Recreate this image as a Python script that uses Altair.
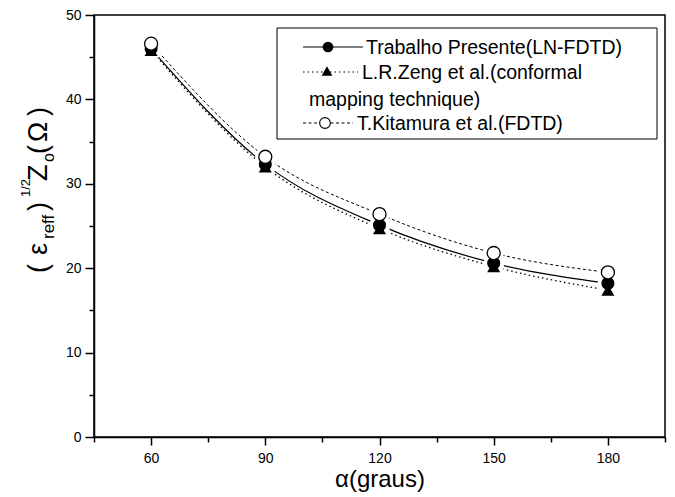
import altair as alt
import pandas as pd

# ---- data ----
alpha = [60, 90, 120, 150, 180]
trabalho = [46.0, 32.3, 25.1, 20.6, 18.2]
zeng = [45.8, 32.0, 24.7, 20.2, 17.4]
kitamura = [46.6, 33.2, 26.4, 21.8, 19.5]

legend_labels = ["Trabalho Presente(LN-FDTD)",
                 "L.R.Zeng et al.(conformal",
                 "mapping technique)",
                 "T.Kitamura et al.(FDTD)"]

x_tick_values = list(range(45, 196, 15))
y_tick_values = list(range(0, 51, 5))

FONT = "Liberation Sans"
W, H = 571, 422
OX, OY = 94, 15  # plot origin in page pixels

xs = alt.Scale(domain=[45, 195], nice=False, zero=False)
ys = alt.Scale(domain=[0, 50], nice=False, zero=False)

x_enc = alt.X(
    "alpha:Q", scale=xs,
    axis=alt.Axis(
        values=x_tick_values,
        labelExpr="datum.value % 30 == 0 ? datum.label : ''",
        tickSize={"condition": {"test": "datum.value % 30 == 0", "value": 8}, "value": 5},
        labelPadding=6, labelFlush=False, labelOverlap=False,
        title="α(graus)", titleFontSize=24, titleFontWeight="normal",
        titlePadding=2, titleFont=FONT, titleColor="black",
    ),
)
y_enc = alt.Y(
    "z:Q", scale=ys,
    axis=alt.Axis(
        values=y_tick_values,
        labelExpr="datum.value % 10 == 0 ? datum.label : ''",
        tickSize={"condition": {"test": "datum.value % 10 == 0", "value": 9}, "value": 5},
        labelPadding=4, labelFlush=False, labelOverlap=False,
        title=None,
    ),
)


def series(values):
    return alt.Chart(pd.DataFrame({"alpha": alpha, "z": values}))


all_df = pd.DataFrame({"alpha": alpha * 3, "z": trabalho + zeng + kitamura})

line_t = series(trabalho).mark_line(interpolate="monotone", color="black", strokeWidth=1.2).encode(x=x_enc, y=y_enc)
line_z = series(zeng).mark_line(interpolate="monotone", color="black", strokeWidth=1.3,
                                strokeDash=[1.5, 3]).encode(x=x_enc, y=y_enc)
line_k = series(kitamura).mark_line(interpolate="monotone", color="black", strokeWidth=1,
                                    strokeDash=[3, 2.5]).encode(x=x_enc, y=y_enc)

halo = alt.Chart(all_df).mark_point(shape="circle", filled=True, color="white", size=420,
                                    opacity=1).encode(x=x_enc, y=y_enc)

pt_z = series(zeng).mark_point(shape="triangle-up", filled=True, color="black", size=170,
                               opacity=1).encode(x=x_enc, y=y_enc)
pt_t = series(trabalho).mark_point(shape="circle", filled=True, color="black", size=170,
                                   opacity=1).encode(x=x_enc, y=y_enc)
pt_k = series(kitamura).mark_point(shape="circle", filled=True, fill="white", stroke="black",
                                   strokeWidth=1.3, size=170, opacity=1).encode(x=x_enc, y=y_enc)

dummy = pd.DataFrame({"d": [0]})


def txt(text, ax, ay, size, angle=0, align="left", baseline="alphabetic"):
    return alt.Chart(dummy).mark_text(text=text, font=FONT, fontSize=size, color="black",
                                      angle=angle, align=align, baseline=baseline).encode(
        x=alt.value(ax - OX), y=alt.value(ay - OY))


# y-axis title pieces (rotated, reading bottom to top)
ytitle = [
    txt("(", 47, 273, 27, angle=270),
    txt("ε", 47, 255, 27, angle=270),
    txt("reff", 54, 239, 17, angle=270),
    txt(")", 47, 211, 27, angle=270),
    txt("1/2", 30, 197, 13, angle=270),
    txt("Z", 47, 181, 27, angle=270),
    txt("o", 54, 162, 16, angle=270),
    txt("(", 47, 154, 27, angle=270),
    txt("Ω", 47, 142, 27, angle=270),
    txt(")", 47, 116, 27, angle=270),
]

# legend
box = alt.Chart(dummy).mark_rect(fill="white", stroke="black", strokeWidth=1).encode(
    x=alt.value(277 - OX), x2=alt.value(657 - OX), y=alt.value(28 - OY), y2=alt.value(139 - OY))


def lrule(x1, x2, y, dash=None, width=1.2):
    kw = dict(color="black", strokeWidth=width)
    if dash:
        kw["strokeDash"] = dash
    return alt.Chart(dummy).mark_rule(**kw).encode(
        x=alt.value(x1 - OX), x2=alt.value(x2 - OX), y=alt.value(y - OY))


def lpoint(x, y, shape, fill, stroke=None):
    kw = dict(shape=shape, filled=True, fill=fill, size=115, opacity=1)
    if stroke:
        kw["stroke"] = stroke
        kw["strokeWidth"] = 1.1
    return alt.Chart(dummy).mark_point(**kw).encode(x=alt.value(x - OX), y=alt.value(y - OY))


legend = [
    box,
    lrule(303, 363, 47),
    lpoint(328, 47, "circle", "black"),
    txt(legend_labels[0], 366, 48, 19.5, baseline="middle"),
    lrule(303, 358, 72, dash=[1.5, 3]),
    lpoint(327, 71, "triangle-up", "black"),
    txt(legend_labels[1], 362, 73, 19.5, baseline="middle"),
    txt(legend_labels[2], 309, 100, 19.5, baseline="middle"),
    lrule(303, 353, 123, dash=[3, 2.5], width=1),
    lpoint(325, 123, "circle", "white", stroke="black"),
    txt(legend_labels[3], 357, 124, 19.5, baseline="middle"),
]

chart = alt.layer(
    line_t, line_z, line_k, halo, pt_z, pt_t, pt_k, *ytitle, *legend
).properties(
    width=W, height=H, autosize="none",
    padding={"left": OX, "top": OY, "right": 675 - OX - W, "bottom": 497 - OY - H},
).configure_view(
    stroke="black", strokeWidth=1.5
).configure_axis(
    grid=False, domainColor="black", domainWidth=1.5, tickColor="black", tickWidth=1.5,
    labelFont=FONT, labelFontSize=14, labelColor="black",
)

chart.save("out.html", embed_options={"renderer": "svg", "actions": False})
